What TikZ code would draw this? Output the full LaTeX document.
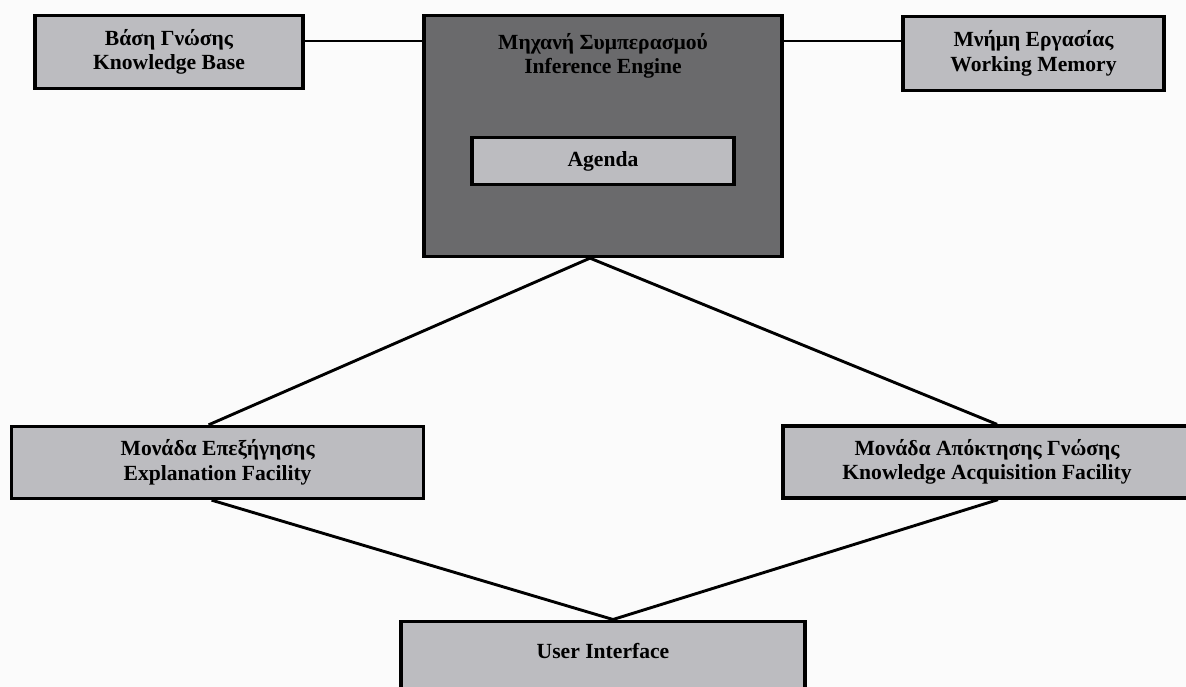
\documentclass[tikz,border=0pt]{standalone}
\usepackage{fontspec}
\setmainfont{Liberation Serif}
\begin{document}
\definecolor{lightfill}{RGB}{188,188,192}
\definecolor{darkfill}{RGB}{106,106,108}
\definecolor{paper}{RGB}{251,251,251}
\begin{tikzpicture}[x=1pt,y=-1pt,
  box/.style={draw=black, line width=3.3pt, fill=lightfill, align=center,
    font=\fontsize{21.6}{24.5}\selectfont\bfseries, inner sep=0pt},
  darkbox/.style={draw=black, line width=3.3pt, fill=darkfill, inner sep=0pt},
  label/.style={align=center, font=\fontsize{21.6}{24.5}\selectfont\bfseries, inner sep=0pt},
  link/.style={draw=black, line width=2.9pt}]
  \clip (0,0) rectangle (1186,687);
  \fill[paper] (0,0) rectangle (1186,687);

  % top row
  \node[box, minimum width=268pt, minimum height=73pt] (kb) at (169,52)
    {Βάση Γνώσης\\Knowledge Base};
  \node[darkbox, minimum width=358pt, minimum height=241pt] (ie) at (603,136) {};
  \node[label] (ietitle) at (603,56) {Μηχανή Συμπερασμού\\Inference Engine};
  \node[box, minimum width=262pt, minimum height=47pt] (agenda) at (603,161) {Agenda};
  \node[box, minimum width=261pt, minimum height=74pt] (wm) at (1033.5,53.5)
    {Μνήμη Εργασίας\\Working Memory};

  % middle row
  \node[box, minimum width=412pt, minimum height=72pt] (expl) at (217.6,462.5)
    {Μονάδα Επεξήγησης\\Explanation Facility};
  \node[box, minimum width=408pt, minimum height=72pt] (kaf) at (987,462)
    {Μονάδα Απόκτησης Γνώσης\\Knowledge Acquisition Facility};

  % bottom
  \node[box, anchor=north, minimum width=404pt, minimum height=100pt] (ui) at (603,619.5) {};
  \node[label] (uititle) at (603,651) {User Interface};

  % connectors
  \draw[link] (kb.east |- 0,41) -- (ie.west |- 0,41);
  \draw[link] (ie.east |- 0,41) -- (wm.west |- 0,41);
  \coordinate (apex) at ([xshift=-13pt]ie.south);
  \coordinate (uitop) at ([xshift=10pt]ui.north);
  \draw[link] (apex) -- ([xshift=-9pt]expl.north);
  \draw[link] (apex) -- ([xshift=10pt]kaf.north);
  \draw[link] ([xshift=-6pt]expl.south) -- (uitop);
  \draw[link] ([xshift=11pt]kaf.south) -- (uitop);
\end{tikzpicture}
\end{document}
